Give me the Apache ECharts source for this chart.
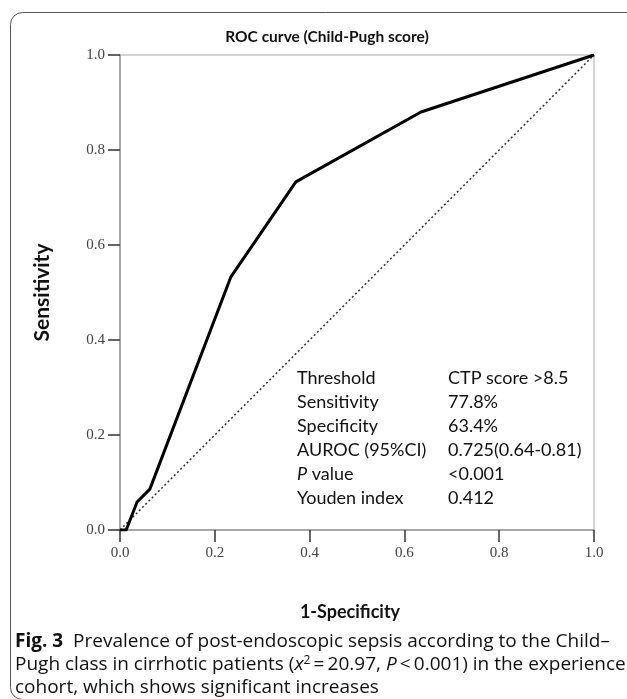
<!DOCTYPE html>
<html><head><meta charset="utf-8">
<script src="https://cdn.jsdelivr.net/npm/echarts@6/dist/echarts.min.js"></script>
<style>html,body{margin:0;padding:0;background:#fff}#c{width:627px;height:699px}</style>
</head><body><div id="c"></div>
<script>
const rocFpr = [0, 0.013, 0.036, 0.063, 0.234, 0.371, 0.635, 1];
const rocTpr = [0, 0, 0.059, 0.086, 0.533, 0.733, 0.88, 1];
const refFpr = [0, 1];
const refTpr = [0, 1];
const tickLabels = ['0.0', '0.2', '0.4', '0.6', '0.8', '1.0'];
const statNames = ['Threshold', 'Sensitivity', 'Specificity', 'AUROC (95%CI)', '{i|P} value', 'Youden index'];
const statValues = ['CTP score >8.5', '77.8%', '63.4%', '0.725(0.64-0.81)', '<0.001', '0.412'];
const titleText = 'ROC curve (Child-Pugh score)';
const xName = '1-Specificity';
const yName = 'Sensitivity';
const captionLines = [
  '{b|Fig. 3}  Prevalence of post-endoscopic sepsis according to the Child\u2013',
  'Pugh class in cirrhotic patients ({i|x}{sup|2}\u2009=\u200920.97, {i|P}\u2009<\u20090.001) in the experience',
  'cohort, which shows significant increases'
];

const SANS = 'Lato, "Noto Sans", sans-serif';
const CAP = '"Open Sans", "Noto Sans", sans-serif';
const SERIF = '"Liberation Serif", "DejaVu Serif", serif';

const chart = echarts.init(document.getElementById('c'), null, {renderer: 'canvas'});

const graphics = [];
graphics.push({
  type: 'rect', z: -10, silent: true,
  shape: {x: 10.5, y: 12.5, width: 640, height: 687, r: 12},
  style: {fill: 'none', stroke: '#555', lineWidth: 1}
});
graphics.push({
  type: 'text', x: 327, y: 37,
  style: {text: titleText, font: 'bold 15.5px ' + SANS, fill: '#111', textAlign: 'center', textVerticalAlign: 'middle'}
});
statNames.forEach((n, i) => {
  graphics.push({
    type: 'text', x: 297, y: 378 + i * 24,
    style: {text: n, font: '18px ' + SANS, fill: '#111', textVerticalAlign: 'middle',
      rich: {i: {fontStyle: 'italic', fontSize: 18, fontFamily: SANS, fill: '#111'}}}
  });
  graphics.push({
    type: 'text', x: 448, y: 378 + i * 24,
    style: {text: statValues[i], font: '18px ' + SANS, fill: '#111', textVerticalAlign: 'middle'}
  });
});
const capRich = {
  b: {fontWeight: 'bold', fontSize: 19, fontFamily: CAP, fill: '#111'},
  i: {fontStyle: 'italic', fontSize: 19, fontFamily: CAP, fill: '#111'},
  sup: {fontSize: 12, fontFamily: CAP, fill: '#111', verticalAlign: 'top', padding: [0, 0, 8, 0]}
};
captionLines.forEach((l, i) => {
  graphics.push({
    type: 'text', x: 15, y: 642 + i * 23,
    style: {text: l, font: '19px ' + CAP, fill: '#111', textVerticalAlign: 'middle', rich: capRich}
  });
});

const option = {
  animation: false,
  backgroundColor: '#fff',
  grid: {left: 120, right: 33, top: 55, bottom: 169, show: true, borderColor: '#aaa', borderWidth: 1},
  xAxis: {
    type: 'value', min: 0, max: 1, interval: 0.2,
    name: xName, nameLocation: 'middle', nameGap: 73,
    nameTextStyle: {fontFamily: SANS, fontWeight: 'bold', fontSize: 18, color: '#111', padding: [0, 14, 0, 0]},
    axisLine: {show: true, lineStyle: {color: '#999', width: 1.5}},
    axisTick: {show: true, length: 12, lineStyle: {color: '#333', width: 1.5}},
    axisLabel: {margin: 16, fontFamily: SERIF, fontSize: 15, color: '#444',
      formatter: v => tickLabels[Math.round(v / 0.2)]},
    splitLine: {show: false}
  },
  yAxis: {
    type: 'value', min: 0, max: 1, interval: 0.2,
    name: yName, nameLocation: 'middle', nameGap: 67,
    nameTextStyle: {fontFamily: SANS, fontWeight: 'bold', fontSize: 21, color: '#111'},
    axisLine: {show: true, lineStyle: {color: '#999', width: 1.5}},
    axisTick: {show: true, length: 12, lineStyle: {color: '#333', width: 1.5}},
    axisLabel: {margin: 15, fontFamily: SERIF, fontSize: 15, color: '#444',
      formatter: v => tickLabels[Math.round(v / 0.2)]},
    splitLine: {show: false}
  },
  series: [
    {
      type: 'line', data: refFpr.map((x, i) => [x, refTpr[i]]),
      showSymbol: false, symbol: 'none',
      lineStyle: {color: '#333', width: 1.5, type: [2, 2.5]}
    },
    {
      type: 'line', data: rocFpr.map((x, i) => [x, rocTpr[i]]),
      showSymbol: false, symbol: 'none',
      lineStyle: {color: '#000', width: 3, join: 'round'}
    }
  ],
  graphic: graphics
};
chart.setOption(option);
</script></body></html>
